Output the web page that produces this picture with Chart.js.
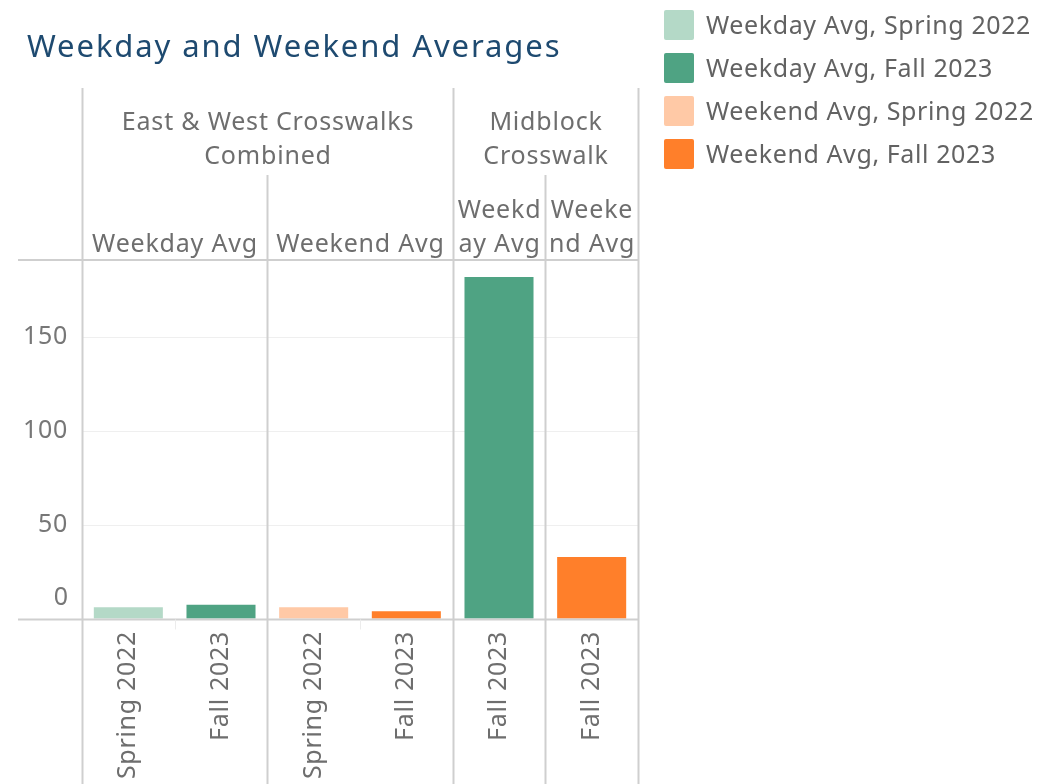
<!DOCTYPE html>
<html>
<head>
<meta charset="utf-8">
<script src="https://cdn.jsdelivr.net/npm/chart.js@4"></script>
<style>
  body { margin: 0; background: #fff; font-family: "Noto Sans", sans-serif; }
  #wrap { position: relative; width: 1046px; height: 784px; overflow: hidden; }
  #chart { position: absolute; left: 0; top: 0; }
  #title { position: absolute; left: 27px; top: 30px; font-size: 31px; line-height: 31px; letter-spacing: 1.9px; color: #1e4a70; white-space: nowrap; }
  #legend { position: absolute; left: 664px; top: 10px; }
  .item { height: 43px; display: flex; align-items: flex-start; }
  .box { width: 30px; height: 30px; border-radius: 2px; margin-right: 12px; }
  .lbl { font-size: 25px; color: #626262; line-height: 30px; letter-spacing: 0.6px; white-space: nowrap; margin-top: -1px; }
</style>
</head>
<body>
<div id="wrap">
  <canvas id="chart" width="1046" height="784"></canvas>
  <div id="title">Weekday and Weekend Averages</div>
  <div id="legend"></div>
</div>
<script>
// bars, left to right
const periods = ["Spring 2022", "Fall 2023", "Spring 2022", "Fall 2023", "Fall 2023", "Fall 2023"];
const values = [6.2, 7.6, 6.2, 4.1, 182, 33];
const seriesIdx = [0, 1, 2, 3, 1, 3];

// legend
const seriesNames = ["Weekday Avg, Spring 2022", "Weekday Avg, Fall 2023", "Weekend Avg, Spring 2022", "Weekend Avg, Fall 2023"];
const seriesColors = ["#b4d9c7", "#4fa383", "#ffc9a6", "#ff7f2a"];

// header rows
const groupHeaders = [
  { lines: ["East & West Crosswalks", "Combined"], from: 0, to: 4 },
  { lines: ["Midblock", "Crosswalk"], from: 4, to: 6 },
];
const subHeaders = [
  { lines: ["Weekday Avg"], from: 0, to: 2 },
  { lines: ["Weekend Avg"], from: 2, to: 4 },
  { lines: ["Weekd", "ay Avg"], from: 4, to: 5 },
  { lines: ["Weeke", "nd Avg"], from: 5, to: 6 },
];
const yTicks = [0, 50, 100, 150];

const legendEl = document.getElementById("legend");
seriesNames.forEach((name, i) => {
  const row = document.createElement("div");
  row.className = "item";
  row.innerHTML = `<div class="box" style="background:${seriesColors[i]}"></div><div class="lbl">${name}</div>`;
  legendEl.appendChild(row);
});

const lineColor = "#cfcfcf";
const txtColor = "#6e6e6e";

const tablePlugin = {
  id: "table",
  beforeDraw(chart) {
    chart.ctx.letterSpacing = "0.7px";
  },
  afterDraw(chart) {
    const { ctx, chartArea: a, scales: { x, y } } = chart;
    const half = (x.getPixelForValue(1) - x.getPixelForValue(0)) / 2;
    const edge = i => Math.round(x.getPixelForValue(i) - half) + 0.5;
    const base = Math.round(y.getPixelForValue(0)) + 0.5;
    ctx.save();
    ctx.strokeStyle = lineColor;
    ctx.lineWidth = 2;
    const line = (x1, y1, x2, y2) => { ctx.beginPath(); ctx.moveTo(x1, y1); ctx.lineTo(x2, y2); ctx.stroke(); };
    line(18, a.top, a.right, a.top);
    line(18, base, a.right, base);
    [0, 4, 6].forEach(i => line(edge(i), 88, edge(i), 784));
    [2, 5].forEach(i => line(edge(i), 175, edge(i), 784));
    ctx.strokeStyle = "#ececec";
    ctx.lineWidth = 1;
    [1, 3].forEach(i => line(edge(i), base, edge(i), base + 10));

    ctx.fillStyle = txtColor;
    ctx.font = '25px "Noto Sans"';
    ctx.letterSpacing = "0.8px";
    ctx.textAlign = "center";
    ctx.textBaseline = "middle";
    groupHeaders.forEach(h => {
      const cx = (edge(h.from) + edge(h.to)) / 2;
      h.lines.forEach((t, k) => ctx.fillText(t, cx, 123 + k * 34));
    });
    subHeaders.forEach(h => {
      const cx = (edge(h.from) + edge(h.to)) / 2;
      const n = h.lines.length;
      h.lines.forEach((t, k) => ctx.fillText(t, cx, 245 - (n - 1 - k) * 34));
    });
    // zero label sits above the baseline
    ctx.fillStyle = "#777";
    ctx.textAlign = "right";
    ctx.letterSpacing = "0px";
    ctx.fillText("0", a.left - 14, y.getPixelForValue(0) - 21);
    ctx.restore();
  }
};

new Chart(document.getElementById("chart"), {
  type: "bar",
  data: {
    labels: periods,
    datasets: [{
      data: values,
      backgroundColor: seriesIdx.map(i => seriesColors[i]),
      borderWidth: 0,
      categoryPercentage: 1,
      barPercentage: 0.745,
    }],
  },
  options: {
    responsive: false,
    animation: false,
    layout: { padding: { top: 260, right: 408, left: 0, bottom: 0 } },
    plugins: { legend: { display: false }, tooltip: { enabled: false } },
    scales: {
      x: {
        grid: { display: false },
        border: { display: false },
        ticks: {
          autoSkip: false, maxRotation: 90, minRotation: 90, padding: 4,
          color: txtColor, font: { family: "Noto Sans", size: 25 },
        },
        afterFit: s => { s.height = 165; },
      },
      y: {
        min: 0, max: 191,
        grid: { color: c => c.tick && c.tick.value === 0 ? "rgba(0,0,0,0)" : "#efefef", drawTicks: false },
        border: { display: false },
        afterBuildTicks: s => { s.ticks = yTicks.map(v => ({ value: v })); },
        ticks: {
          padding: 14, color: "#777", font: { family: "Noto Sans", size: 25 },
          callback: v => v === 0 ? "" : v,
        },
        afterFit: s => { s.width = 82; },
      },
    },
  },
  plugins: [tablePlugin],
});
</script>
</body>
</html>
